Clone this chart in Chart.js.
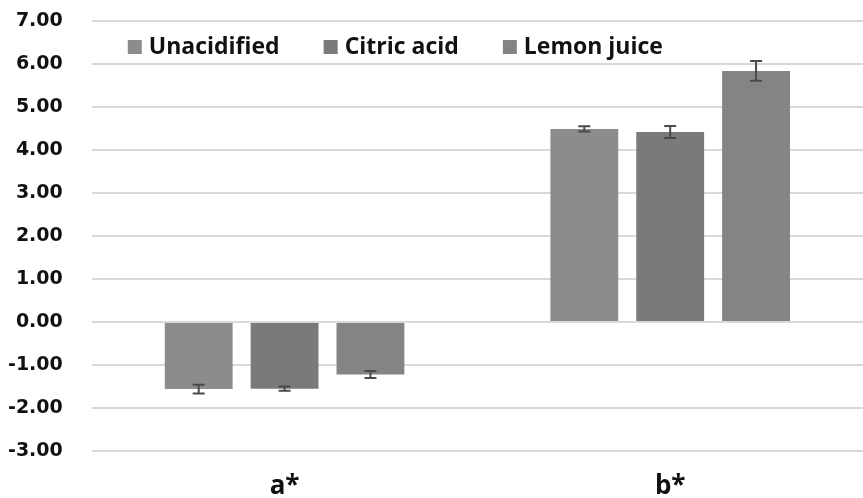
<!DOCTYPE html>
<html>
<head>
<meta charset="utf-8">
<script src="https://cdn.jsdelivr.net/npm/chart.js@4.4.1/dist/chart.umd.min.js"></script>
<style>
  html, body { margin: 0; padding: 0; background: #ffffff; }
  #wrap { width: 863px; height: 498px; position: relative; }
</style>
</head>
<body>
<div id="wrap"><canvas id="chart"></canvas></div>
<script>
// Colour coordinates per treatment
const categories = ['a*', 'b*'];
const seriesNames = ['Unacidified', 'Citric acid', 'Lemon juice'];
const unacidified = [-1.56, 4.49];
const citricAcid = [-1.55, 4.42];
const lemonJuice = [-1.22, 5.84];
// standard deviations for the error bars
const unacidifiedErr = [0.10, 0.06];
const citricAcidErr = [0.05, 0.14];
const lemonJuiceErr = [0.08, 0.23];
const yTicks = [-3, -2, -1, 0, 1, 2, 3, 4, 5, 6, 7];

const barColors = ['#8c8c8c', '#7a7a7a', '#848484'];
const FONT = "'Open Sans', 'Liberation Sans', sans-serif";
const TICK_FONT = "'DejaVu Sans', 'Open Sans', sans-serif";

const errorBars = {
  id: 'errorBars',
  afterDatasetsDraw(chart) {
    const ctx = chart.ctx;
    const y = chart.scales.y;
    ctx.save();
    ctx.strokeStyle = '#4a4a4a';
    ctx.lineWidth = 2;
    chart.data.datasets.forEach((ds, i) => {
      const meta = chart.getDatasetMeta(i);
      meta.data.forEach((bar, j) => {
        const v = ds.data[j];
        const e = ds.errors[j];
        const x = bar.x;
        const top = y.getPixelForValue(v + e);
        const bot = y.getPixelForValue(v - e);
        ctx.beginPath();
        ctx.moveTo(x, top); ctx.lineTo(x, bot);
        ctx.moveTo(x - 6, top); ctx.lineTo(x + 6, top);
        ctx.moveTo(x - 6, bot); ctx.lineTo(x + 6, bot);
        ctx.stroke();
      });
    });
    ctx.restore();
  }
};

// legend drawn inside the plot, over the gridlines
const insideLegend = {
  id: 'insideLegend',
  afterDraw(chart) {
    const ctx = chart.ctx;
    const area = chart.chartArea;
    ctx.save();
    ctx.font = "bold 23px " + FONT;
    ctx.textBaseline = 'middle';
    let x = area.left + 36;
    const yMid = 47;
    chart.data.datasets.forEach((ds) => {
      ctx.fillStyle = ds.backgroundColor;
      ctx.fillRect(x, yMid - 7, 14, 14);
      x += 21;
      ctx.fillStyle = '#111111';
      ctx.fillText(ds.label, x, yMid);
      x += ctx.measureText(ds.label).width + 44;
    });
    ctx.restore();
  }
};

const values = [unacidified, citricAcid, lemonJuice];
const errs = [unacidifiedErr, citricAcidErr, lemonJuiceErr];

new Chart(document.getElementById('chart'), {
  type: 'bar',
  data: {
    labels: categories,
    datasets: seriesNames.map((name, i) => ({
      label: name,
      data: values[i],
      errors: errs[i],
      backgroundColor: barColors[i],
      borderWidth: 0,
      categoryPercentage: 0.668,
      barPercentage: 0.79
    }))
  },
  options: {
    responsive: true,
    maintainAspectRatio: false,
    animation: false,
    layout: { padding: { left: 8, right: 0, top: 21, bottom: 0 } },
    plugins: {
      legend: { display: false },
      tooltip: { enabled: false }
    },
    scales: {
      x: {
        grid: { display: false, drawTicks: false },
        border: { display: false },
        afterFit(scale) { scale.height = 47; },
        ticks: {
          color: '#111111',
          font: { family: FONT, size: 26, weight: 'bold', lineHeight: 1.0 },
          padding: 23
        }
      },
      y: {
        min: -3,
        max: 7,
        afterBuildTicks(scale) { scale.ticks = yTicks.map(v => ({ value: v })); },
        grid: { color: '#d9d9d9', lineWidth: 2, drawTicks: true, tickLength: 29, tickColor: 'rgba(0,0,0,0)' },
        border: { display: false },
        ticks: {
          color: '#111111',
          font: { family: TICK_FONT, size: 19, weight: 'bold' },
          padding: 0,
          callback: (v) => Number(v).toFixed(2)
        }
      }
    }
  },
  plugins: [errorBars, insideLegend]
});
</script>
</body>
</html>
